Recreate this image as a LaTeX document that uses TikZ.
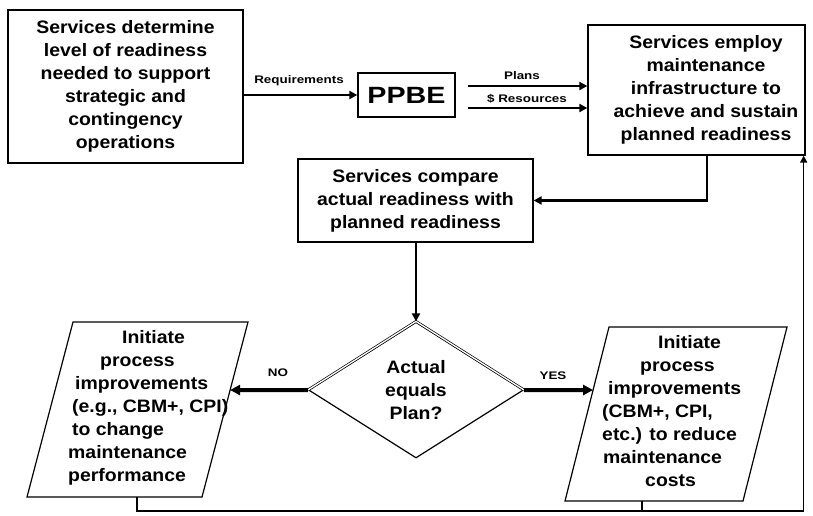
\documentclass[tikz,border=0pt]{standalone}
\usepackage{fontspec}
\setmainfont[FakeStretch=1.08]{Liberation Sans}
\newfontfamily\lblfont[FakeStretch=1.22]{Liberation Sans}
\usetikzlibrary{shapes.geometric,arrows.meta,calc}
\tikzset{
  box/.style={draw, line width=1.3pt, inner sep=0pt},
  main/.style={font=\fontsize{18}{23}\selectfont\bfseries, align=center},
  lbl/.style={font=\lblfont\fontsize{11}{13}\selectfont\bfseries, inner sep=0pt},
  pbox/.style={draw, line width=1.2pt, line join=miter},
  arr/.style={-{Triangle[length=8pt,width=8pt]}, line width=2.6pt},
  arrbig/.style={-{Triangle[length=10pt,width=10pt]}, line width=4pt},
  arrmid/.style={-{Triangle[length=8pt,width=8pt]}, line width=2pt},
  loopline/.style={line width=1.6pt},
}
\begin{document}
\begin{tikzpicture}[x=1pt,y=-1pt]
\useasboundingbox (0,0) rectangle (813,515);
\fill[white] (0,0) rectangle (813,515);

% boxes
\node[box, main, minimum width=235pt, minimum height=153pt] (b1) at (125.5,86.5)
  {Services determine\\level of readiness\\needed to support\\strategic and\\contingency\\operations};
\node[box, font=\lblfont\fontsize{23.5}{28}\selectfont\bfseries, minimum width=97pt, minimum height=44pt] (ppbe) at (406.5,95) {PPBE};
\node[box, minimum width=217pt, minimum height=130pt] (b2) at (696.5,90) {};
\node[main, inner sep=0pt] (b2t) at (706,90)
  {Services employ\\maintenance\\infrastructure to\\achieve and sustain\\planned readiness};
\node[box, main, minimum width=235pt, minimum height=83pt] (b3) at (415.5,200.5)
  {Services compare\\actual readiness with\\planned readiness};

% decision
\node[draw, diamond, line width=1.2pt, minimum width=215pt, minimum height=136pt, inner sep=0pt, main] (d) at (416,390)
  {Actual\\equals\\Plan?};
\draw[line width=0.7pt, double distance=1.3pt] (d.west) -- (d.north) -- (d.east);

% left parallelogram
\coordinate (p1a) at (73,322);
\coordinate (p1b) at (248,322);
\coordinate (p1c) at (202,497);
\coordinate (p1d) at (27,497);
\draw[pbox] (p1a) -- (p1b) -- (p1c) -- (p1d) -- cycle;
\node[main, anchor=west, inner sep=0pt] (p1t) at (68,407.5)
  {\begin{tabular}{@{}l@{}}
   \hspace*{54pt}Initiate\\
   \hspace*{32pt}process\\
   \hspace*{7pt}improvements\\
   \hspace*{4pt}(e.g., CBM+, CPI)\\
   \hspace*{4pt}to change\\
   maintenance\\
   performance
   \end{tabular}};

% right parallelogram
\coordinate (p2a) at (609,327);
\coordinate (p2b) at (787,327);
\coordinate (p2c) at (743,501);
\coordinate (p2d) at (565,501);
\draw[pbox] (p2a) -- (p2b) -- (p2c) -- (p2d) -- cycle;
\node[main, anchor=west, inner sep=0pt] (p2t) at (602,413)
  {\begin{tabular}{@{}l@{}}
   \hspace*{56pt}Initiate\\
   \hspace*{38pt}process\\
   \hspace*{6pt}improvements\\
   (CBM+, CPI,\\
   etc.) to reduce\\
   \hspace*{1pt}maintenance\\
   \hspace*{43pt}costs
   \end{tabular}};

% labels
\node[lbl] (req) at (299,81) {Requirements};
\node[lbl] (plans) at (522,76) {Plans};
\node[lbl] (res) at (527,99) {\$ Resources};
\node[lbl] (no) at (278,373) {NO};
\node[lbl] (yes) at (553,376) {YES};

% connectors
\draw[arr] (b1.east |- ppbe.west) -- (ppbe.west);
\draw[arr] ([xshift=12pt,yshift=9pt]ppbe.east) coordinate (pl) -- (pl -| b2.west);
\draw[arr] ([xshift=12pt,yshift=-13pt]ppbe.east) coordinate (rs) -- (rs -| b2.west);
\draw[arr] ($(b2.south west)!0.548!(b2.south east)$) |- (b3.east);
\draw[arrmid] (b3.south -| d.north) -- (d.north);

\coordinate (nofar) at (d.west -| p1d);
\coordinate (noend) at (intersection of p1b--p1c and d.west--nofar);
\draw[arrbig] (d.west) -- (noend);
\coordinate (yesfar) at (d.east -| p2b);
\coordinate (yesend) at (intersection of p2a--p2d and d.east--yesfar);
\draw[arrbig] (d.east) -- (yesend);

% loop back
\coordinate (bot) at (0,511);
\coordinate (p1m) at ($(p1d)!0.627!(p1c)$);
\coordinate (p2m) at ($(p2d)!0.433!(p2c)$);
\draw[loopline, -{Triangle[length=7pt,width=7pt]}] (p1m) -- (p1m |- bot) -| ([xshift=-2pt]b2.south east);
\draw[loopline] (p2m) -- (p2m |- bot);
\end{tikzpicture}
\end{document}
